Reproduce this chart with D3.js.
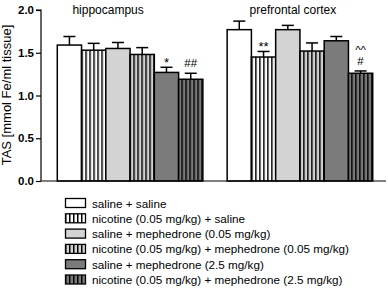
<!DOCTYPE html>
<html>
<head>
<meta charset="utf-8">
<script src="https://cdn.jsdelivr.net/npm/d3@7"></script>
<style>
  body { margin: 0; background: #fff; }
  text { font-family: Arial, "Liberation Sans", sans-serif; }
</style>
</head>
<body>
<div id="chart"></div>
<script>
// Data
const regions = ['hippocampus', 'prefrontal cortex'];
const treatments = [
    'saline + saline',
    'nicotine (0.05 mg/kg) + saline',
    'saline + mephedrone (0.05 mg/kg)',
    'nicotine (0.05 mg/kg) + mephedrone (0.05 mg/kg)',
    'saline + mephedrone (2.5 mg/kg)',
    'nicotine (0.05 mg/kg) + mephedrone (2.5 mg/kg)'
];
const hippoMeans = [1.59, 1.53, 1.55, 1.48, 1.27, 1.19];
const hippoSem = [0.10, 0.08, 0.07, 0.08, 0.06, 0.07];
const pfcMeans = [1.77, 1.45, 1.77, 1.52, 1.64, 1.26];
const pfcSem = [0.10, 0.065, 0.05, 0.095, 0.05, 0.027];
const hippoMarks = [[], [], [], [], ['*'], ['##']];
const pfcMarks = [[], ['**'], [], [], [], ['#', '^^']];
const yTicks = [0, 0.5, 1.0, 1.5, 2.0];

const fills = ['#ffffff', '#ffffff', '#d3d3d3', '#d3d3d3', '#7b7b7b', '#7b7b7b'];
const striped = [false, true, false, true, false, true];

const width = 388, height = 289;
const svg = d3.select('#chart').append('svg')
    .attr('width', width)
    .attr('height', height);

// stripe patterns
const defs = svg.append('defs');
fills.forEach((c, i) => {
    if (!striped[i]) return;
    const p = defs.append('pattern')
        .attr('id', 'stripe' + i)
        .attr('patternUnits', 'userSpaceOnUse')
        .attr('width', 4).attr('height', 4);
    p.append('rect').attr('width', 4).attr('height', 4).attr('fill', c);
    p.append('rect').attr('x', 0).attr('width', 1.5).attr('height', 4).attr('fill', '#000');
});

const y = d3.scaleLinear().domain([0, 2]).range([181, 10]);
const x0 = d3.scaleBand().domain(regions).range([42, 388])
    .paddingInner(0.143).paddingOuter(0.09);
const x1 = d3.scaleBand().domain(d3.range(treatments.length)).range([0, x0.bandwidth()]);

const data = [
    { region: regions[0], means: hippoMeans, sem: hippoSem, marks: hippoMarks },
    { region: regions[1], means: pfcMeans, sem: pfcSem, marks: pfcMarks }
];

// y axis
const yAxis = svg.append('g')
    .attr('transform', 'translate(41,0)')
    .call(d3.axisLeft(y).tickValues(yTicks).tickFormat(d3.format('.1f')).tickSize(5).tickPadding(2));
yAxis.select('.domain').attr('stroke-width', 1.2).attr('d', 'M-5,10H0V181');
yAxis.selectAll('.tick line').attr('stroke-width', 1.2);
yAxis.selectAll('.tick text')
    .style('font-size', '11.5px').style('font-weight', 'bold')
    .style('font-family', 'Arial, "Liberation Sans", sans-serif');

svg.append('text')
    .attr('transform', 'translate(11,95) rotate(-90)')
    .attr('text-anchor', 'middle')
    .style('font-size', '13px')
    .text('TAS [mmol Fe/ml tissue]');

// bars
data.forEach(g => {
    const grp = svg.append('g').attr('transform', `translate(${x0(g.region)},0)`);
    g.means.forEach((m, i) => {
        const bx = x1(i), bw = x1.bandwidth();
        const top = y(m + g.sem[i]);
        // error bar (drawn first so bar outline sits on top)
        grp.append('line')
            .attr('x1', bx + bw / 2).attr('x2', bx + bw / 2)
            .attr('y1', y(m)).attr('y2', top)
            .attr('stroke', '#000').attr('stroke-width', 1.5);
        grp.append('line')
            .attr('x1', bx + bw / 2 - 6).attr('x2', bx + bw / 2 + 6)
            .attr('y1', top).attr('y2', top)
            .attr('stroke', '#000').attr('stroke-width', 1.5);
        grp.append('rect')
            .attr('x', bx).attr('y', y(m))
            .attr('width', bw).attr('height', y(0) - y(m))
            .attr('fill', striped[i] ? `url(#stripe${i})` : fills[i])
            .attr('stroke', '#000').attr('stroke-width', 1.5);
        g.marks[i].forEach((t, k) => {
            const star = t.startsWith('*');
            grp.append('text')
                .attr('x', bx + bw / 2)
                .attr('y', star ? top - 0.5 : top - 6 - k * 11)
                .attr('text-anchor', 'middle')
                .style('font-size', star ? '13px' : '11.5px')
                .text(t);
        });
    });
    svg.append('text')
        .attr('x', x0(g.region) + x0.bandwidth() / 2 - 22 + (g.region === regions[1] ? 15 : 0))
        .attr('y', 14)
        .attr('text-anchor', 'middle')
        .style('font-size', '12px')
        .text(g.region);
});

// x baseline
svg.append('line')
    .attr('x1', 41).attr('x2', 386)
    .attr('y1', y(0)).attr('y2', y(0))
    .attr('stroke', '#000').attr('stroke-width', 1.2);

// legend
const legend = svg.append('g').attr('transform', 'translate(65,198)');
treatments.forEach((t, i) => {
    const row = legend.append('g').attr('transform', `translate(0,${i * 15.3})`);
    row.append('rect')
        .attr('x', 0.5).attr('y', 0.5)
        .attr('width', 20).attr('height', 9)
        .attr('fill', striped[i] ? `url(#stripe${i})` : fills[i])
        .attr('stroke', '#000').attr('stroke-width', 1.3);
    row.append('text')
        .attr('x', 27).attr('y', 9.5)
        .style('font-size', '11.7px')
        .text(t);
});
</script>
</body>
</html>
